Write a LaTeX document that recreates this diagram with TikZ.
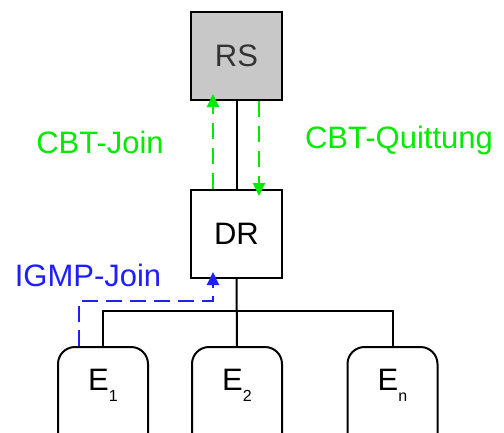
\documentclass[tikz,border=0pt]{standalone}
\usepackage{fontspec}
\setmainfont{Liberation Sans}
\usetikzlibrary{arrows.meta}
\definecolor{cbtgreen}{RGB}{0,235,0}
\definecolor{igmpblue}{RGB}{30,30,255}
\definecolor{rsgray}{RGB}{200,200,200}
\tikzset{
  box/.style={draw=black, line width=2pt, minimum width=91pt, minimum height=88pt, inner sep=0pt,
              font=\fontsize{31}{36}\selectfont},
  endbox/.style={draw=black, line width=2pt, rounded corners=17pt, minimum width=90pt,
                 minimum height=110pt, inner sep=0pt},
  etext/.style={font=\fontsize{31}{36}\selectfont, inner sep=0pt},
  wire/.style={draw=black, line width=2pt},
  msg/.style={line width=2pt, dash pattern=on 16pt off 9pt,
              -{Triangle[length=13pt,width=12pt]}, shorten >=-7pt},
  lbl/.style={font=\fontsize{31}{36}\selectfont, inner sep=0pt}
}
\newcommand{\esub}[1]{E\raisebox{-0.36em}{\fontsize{16}{16}\selectfont #1}}
\begin{document}
\begin{tikzpicture}[x=1pt,y=-1pt]
\clip (0,0) rectangle (504,432);
\fill[white] (0,0) rectangle (504,432);
% boxes
\node[box, fill=rsgray, text=black!80] (RS) at (236.5,56) {RS};
\node[box, fill=white] (DR) at (236.5,234) {DR};
\node[endbox] (E1) at (103,402) {};
\node[endbox] (E2) at (237,402) {};
\node[endbox] (En) at (392.5,402) {};
\node[etext] (E1t) at (103,385) {\esub{1}};
\node[etext] (E2t) at (237,385) {\esub{2}};
\node[etext] (Ent) at (392.5,385) {\esub{n}};
% wires
\draw[wire] (RS.south) -- (DR.north);
\draw[wire] (DR.south) -- (E2.north);
\draw[wire] (E1.north) -- ++(0,-35) coordinate (busl) -| (En.north);
% CBT messages
\draw[msg, cbtgreen] ([xshift=-23.5pt]DR.north) -- ([xshift=-23.5pt]RS.south);
\draw[msg, cbtgreen] ([xshift=22.5pt]RS.south) -- ([xshift=22.5pt]DR.north);
% IGMP
\coordinate (ig) at (213,301);
\draw[msg, igmpblue, dash pattern=on 16pt off 8pt] ([xshift=-24pt]E1.north) |- (ig) -- (ig |- DR.south);
% labels
\node[lbl, text=cbtgreen] (cbtjoin) at (100,142) {CBT-Join};
\node[lbl, text=cbtgreen] (cbtq) at (399,140) {CBT-Quittung};
\node[lbl, text=igmpblue] (igmpjoin) at (88,275) {IGMP-Join};
\end{tikzpicture}
\end{document}
